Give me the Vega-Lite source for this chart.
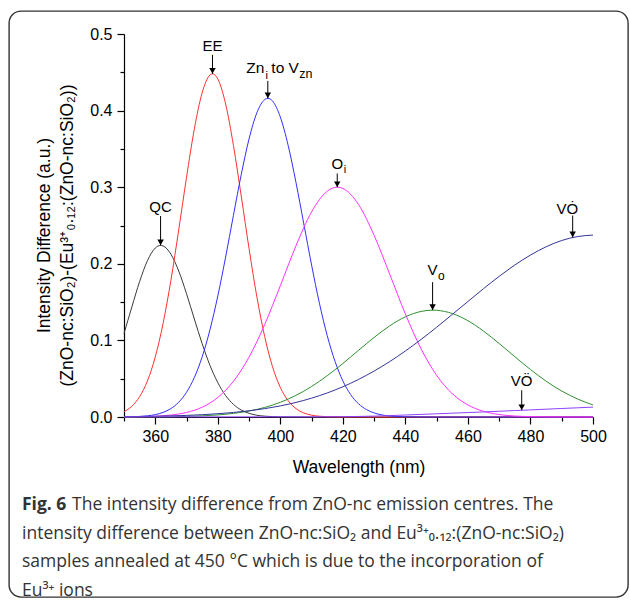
{
  "$schema": "https://vega.github.io/schema/vega-lite/v6.json",
  "width": 619,
  "height": 586,
  "autosize": {"type": "none"},
  "padding": {"left": 9, "top": 11, "right": 2, "bottom": 4},
  "background": "white",
  "config": {
    "view": {"stroke": "#333333", "strokeWidth": 1.4, "cornerRadius": 12, "fill": "white"}
  },
  "title": {
    "text": "Fig. 6",
    "subtitle": [
      "\u200b\u00a0\u00a0\u00a0\u00a0\u00a0\u00a0\u00a0\u00a0\u00a0\u00a0\u00a0The intensity difference from ZnO-nc emission centres. The",
      "intensity difference between ZnO-nc:SiO\u2082 and Eu\u00b3\u207a\u2080.\u2081\u2082:(ZnO-nc:SiO\u2082)",
      "samples annealed at 450 \u00b0C which is due to the incorporation of",
      "Eu\u00b3\u207a ions"
    ],
    "orient": "bottom",
    "anchor": "start",
    "frame": "group",
    "offset": -101,
    "dx": 13,
    "font": "Open Sans",
    "fontSize": 17.5,
    "fontWeight": "bold",
    "color": "#333333",
    "subtitleFont": "Open Sans",
    "subtitleFontSize": 17.5,
    "subtitleFontWeight": "normal",
    "subtitleColor": "#333333",
    "subtitleLineHeight": 28.7,
    "subtitlePadding": -17.5
  },
  "datasets": {
    "curves": [
      {"s":"QC","w":350,"v":0.109},{"s":"QC","w":352.5,"v":0.1435},{"s":"QC","w":355,"v":0.1769},{"s":"QC","w":357.5,"v":0.2041},{"s":"QC","w":360,"v":0.2206},{"s":"QC","w":361.7,"v":0.224},{"s":"QC","w":362.5,"v":0.2233},{"s":"QC","w":365,"v":0.2126},{"s":"QC","w":367.5,"v":0.1906},{"s":"QC","w":370,"v":0.1609},{"s":"QC","w":372.5,"v":0.1279},{"s":"QC","w":375,"v":0.0957},{"s":"QC","w":377.5,"v":0.0674},{"s":"QC","w":380,"v":0.0448},{"s":"QC","w":382.5,"v":0.028},{"s":"QC","w":385,"v":0.0165},{"s":"QC","w":387.5,"v":0.0091},{"s":"QC","w":390,"v":0.0048},{"s":"QC","w":392.5,"v":0.0023},{"s":"QC","w":395,"v":0.0011},{"s":"QC","w":397.5,"v":0.0005},{"s":"QC","w":400,"v":0.0002},{"s":"QC","w":410,"v":0},{"s":"QC","w":450,"v":0},{"s":"QC","w":500,"v":0},
      {"s":"EE","w":350,"v":0.0069},{"s":"EE","w":352.5,"v":0.014},{"s":"EE","w":355,"v":0.0266},{"s":"EE","w":357.5,"v":0.0471},{"s":"EE","w":360,"v":0.0784},{"s":"EE","w":362.5,"v":0.1222},{"s":"EE","w":365,"v":0.1784},{"s":"EE","w":367.5,"v":0.2442},{"s":"EE","w":370,"v":0.313},{"s":"EE","w":372.5,"v":0.3761},{"s":"EE","w":375,"v":0.4233},{"s":"EE","w":377.5,"v":0.4465},{"s":"EE","w":378.3,"v":0.448},{"s":"EE","w":380,"v":0.4413},{"s":"EE","w":382.5,"v":0.4087},{"s":"EE","w":385,"v":0.3546},{"s":"EE","w":387.5,"v":0.2884},{"s":"EE","w":390,"v":0.2197},{"s":"EE","w":392.5,"v":0.1568},{"s":"EE","w":395,"v":0.1049},{"s":"EE","w":397.5,"v":0.0657},{"s":"EE","w":400,"v":0.0386},{"s":"EE","w":402.5,"v":0.0213},{"s":"EE","w":405,"v":0.011},{"s":"EE","w":407.5,"v":0.0053},{"s":"EE","w":410,"v":0.0024},{"s":"EE","w":412.5,"v":0.001},{"s":"EE","w":415,"v":0.0004},{"s":"EE","w":420,"v":0.0001},{"s":"EE","w":430,"v":0},{"s":"EE","w":500,"v":0},
      {"s":"Zn","w":350,"v":0.0001},{"s":"Zn","w":352.5,"v":0.0003},{"s":"Zn","w":355,"v":0.0007},{"s":"Zn","w":357.5,"v":0.0015},{"s":"Zn","w":360,"v":0.0031},{"s":"Zn","w":362.5,"v":0.006},{"s":"Zn","w":365,"v":0.011},{"s":"Zn","w":367.5,"v":0.0193},{"s":"Zn","w":370,"v":0.0323},{"s":"Zn","w":372.5,"v":0.0516},{"s":"Zn","w":375,"v":0.0785},{"s":"Zn","w":377.5,"v":0.114},{"s":"Zn","w":380,"v":0.158},{"s":"Zn","w":382.5,"v":0.2088},{"s":"Zn","w":385,"v":0.2633},{"s":"Zn","w":387.5,"v":0.3166},{"s":"Zn","w":390,"v":0.3631},{"s":"Zn","w":392.5,"v":0.3972},{"s":"Zn","w":395,"v":0.4144},{"s":"Zn","w":396,"v":0.416},{"s":"Zn","w":397.5,"v":0.4125},{"s":"Zn","w":400,"v":0.3916},{"s":"Zn","w":402.5,"v":0.3546},{"s":"Zn","w":405,"v":0.3063},{"s":"Zn","w":407.5,"v":0.2523},{"s":"Zn","w":410,"v":0.1983},{"s":"Zn","w":412.5,"v":0.1486},{"s":"Zn","w":415,"v":0.1062},{"s":"Zn","w":417.5,"v":0.0725},{"s":"Zn","w":420,"v":0.0471},{"s":"Zn","w":422.5,"v":0.0292},{"s":"Zn","w":425,"v":0.0173},{"s":"Zn","w":427.5,"v":0.0098},{"s":"Zn","w":430,"v":0.0053},{"s":"Zn","w":432.5,"v":0.0027},{"s":"Zn","w":435,"v":0.0013},{"s":"Zn","w":440,"v":0.0003},{"s":"Zn","w":445,"v":0.0001},{"s":"Zn","w":450,"v":0},{"s":"Zn","w":500,"v":0},
      {"s":"Oi","w":350,"v":0.0001},{"s":"Oi","w":355,"v":0.0004},{"s":"Oi","w":360,"v":0.001},{"s":"Oi","w":365,"v":0.0025},{"s":"Oi","w":370,"v":0.0059},{"s":"Oi","w":375,"v":0.0128},{"s":"Oi","w":380,"v":0.0255},{"s":"Oi","w":385,"v":0.0466},{"s":"Oi","w":390,"v":0.0782},{"s":"Oi","w":395,"v":0.1208},{"s":"Oi","w":400,"v":0.1714},{"s":"Oi","w":405,"v":0.2235},{"s":"Oi","w":410,"v":0.2678},{"s":"Oi","w":415,"v":0.2948},{"s":"Oi","w":418.2,"v":0.3},{"s":"Oi","w":420,"v":0.2984},{"s":"Oi","w":425,"v":0.2775},{"s":"Oi","w":430,"v":0.2371},{"s":"Oi","w":435,"v":0.1862},{"s":"Oi","w":440,"v":0.1344},{"s":"Oi","w":445,"v":0.0891},{"s":"Oi","w":450,"v":0.0543},{"s":"Oi","w":455,"v":0.0304},{"s":"Oi","w":460,"v":0.0157},{"s":"Oi","w":465,"v":0.0074},{"s":"Oi","w":470,"v":0.0032},{"s":"Oi","w":475,"v":0.0013},{"s":"Oi","w":480,"v":0.0005},{"s":"Oi","w":485,"v":0.0002},{"s":"Oi","w":490,"v":0.0001},{"s":"Oi","w":495,"v":0},{"s":"Oi","w":500,"v":0},
      {"s":"Vo","w":350,"v":0},{"s":"Vo","w":355,"v":0.0001},{"s":"Vo","w":360,"v":0.0002},{"s":"Vo","w":365,"v":0.0004},{"s":"Vo","w":370,"v":0.0008},{"s":"Vo","w":375,"v":0.0015},{"s":"Vo","w":380,"v":0.0027},{"s":"Vo","w":385,"v":0.0047},{"s":"Vo","w":390,"v":0.0078},{"s":"Vo","w":395,"v":0.0125},{"s":"Vo","w":400,"v":0.0192},{"s":"Vo","w":405,"v":0.0282},{"s":"Vo","w":410,"v":0.0398},{"s":"Vo","w":415,"v":0.0539},{"s":"Vo","w":420,"v":0.0699},{"s":"Vo","w":425,"v":0.087},{"s":"Vo","w":430,"v":0.1039},{"s":"Vo","w":435,"v":0.119},{"s":"Vo","w":440,"v":0.1308},{"s":"Vo","w":445,"v":0.1378},{"s":"Vo","w":448.8,"v":0.1395},{"s":"Vo","w":450,"v":0.1393},{"s":"Vo","w":455,"v":0.1351},{"s":"Vo","w":460,"v":0.1257},{"s":"Vo","w":465,"v":0.1121},{"s":"Vo","w":470,"v":0.0959},{"s":"Vo","w":475,"v":0.0787},{"s":"Vo","w":480,"v":0.062},{"s":"Vo","w":485,"v":0.0468},{"s":"Vo","w":490,"v":0.0339},{"s":"Vo","w":495,"v":0.0236},{"s":"Vo","w":500,"v":0.0157},
      {"s":"VOdot","w":350,"v":0.0004},{"s":"VOdot","w":355,"v":0.0007},{"s":"VOdot","w":360,"v":0.001},{"s":"VOdot","w":365,"v":0.0015},{"s":"VOdot","w":370,"v":0.0021},{"s":"VOdot","w":375,"v":0.003},{"s":"VOdot","w":380,"v":0.0043},{"s":"VOdot","w":385,"v":0.0059},{"s":"VOdot","w":390,"v":0.0081},{"s":"VOdot","w":395,"v":0.0109},{"s":"VOdot","w":400,"v":0.0145},{"s":"VOdot","w":405,"v":0.019},{"s":"VOdot","w":410,"v":0.0246},{"s":"VOdot","w":415,"v":0.0314},{"s":"VOdot","w":420,"v":0.0395},{"s":"VOdot","w":425,"v":0.049},{"s":"VOdot","w":430,"v":0.06},{"s":"VOdot","w":435,"v":0.0724},{"s":"VOdot","w":440,"v":0.0862},{"s":"VOdot","w":445,"v":0.1012},{"s":"VOdot","w":450,"v":0.1172},{"s":"VOdot","w":455,"v":0.1339},{"s":"VOdot","w":460,"v":0.1508},{"s":"VOdot","w":465,"v":0.1676},{"s":"VOdot","w":470,"v":0.1836},{"s":"VOdot","w":475,"v":0.1984},{"s":"VOdot","w":480,"v":0.2114},{"s":"VOdot","w":485,"v":0.2222},{"s":"VOdot","w":490,"v":0.2304},{"s":"VOdot","w":495,"v":0.2355},{"s":"VOdot","w":500,"v":0.2375},
      {"s":"VOdd","w":350,"v":0.0002},{"s":"VOdd","w":370,"v":0.0002},{"s":"VOdd","w":390,"v":0.0002},{"s":"VOdd","w":410,"v":0.0002},{"s":"VOdd","w":415,"v":0.0003},{"s":"VOdd","w":420,"v":0.0004},{"s":"VOdd","w":425,"v":0.0007},{"s":"VOdd","w":430,"v":0.0012},{"s":"VOdd","w":435,"v":0.0018},{"s":"VOdd","w":440,"v":0.0026},{"s":"VOdd","w":445,"v":0.0034},{"s":"VOdd","w":450,"v":0.0042},{"s":"VOdd","w":455,"v":0.005},{"s":"VOdd","w":460,"v":0.0058},{"s":"VOdd","w":465,"v":0.0066},{"s":"VOdd","w":470,"v":0.0075},{"s":"VOdd","w":475,"v":0.0084},{"s":"VOdd","w":480,"v":0.0093},{"s":"VOdd","w":485,"v":0.0102},{"s":"VOdd","w":490,"v":0.0111},{"s":"VOdd","w":495,"v":0.012},{"s":"VOdd","w":500,"v":0.0129}
    ],
    "notes": [
      {"id":"QC","w":361.7,"v":0.224,"lv":0.2624,"main":"QC"},
      {"id":"EE","w":378.3,"v":0.448,"lv":0.4728,"main":"EE"},
      {"id":"Zn","w":396,"v":0.416,"lv":0.4388,"main":"Zn","sub":"i","main2":"to V","sub2":"zn"},
      {"id":"Oi","w":418.2,"v":0.3,"lv":0.3179,"main":"O","sub":"i"},
      {"id":"Vo","w":448.7,"v":0.1395,"lv":0.176,"main":"V","sub":"o"},
      {"id":"VOdot","w":493.5,"v":0.2345,"lv":0.263,"main":"V\u022e"},
      {"id":"VOdd","w":477.2,"v":0.0089,"lv":0.0349,"main":"V\u00d6"}
    ]
  },
  "layer": [
    {
      "data": {"name": "curves"},
      "mark": {"type": "line", "strokeWidth": 1, "interpolate": "monotone"},
      "encoding": {
        "x": {
          "field": "w", "type": "quantitative", "title": "Wavelength (nm)",
          "scale": {"domain": [350, 500], "range": [115, 584], "nice": false, "zero": false},
          "axis": {
            "values": [350,360,370,380,390,400,410,420,430,440,450,460,470,480,490,500],
            "labelExpr": "datum.value % 20 === 0 ? datum.label : ''",
            "tickSize": {"condition": {"test": "datum.value % 20 !== 0", "value": 4}, "value": 7},
            "offset": -180,
            "grid": false,
            "domainColor": "#000000", "domainWidth": 1.2,
            "tickColor": "#000000", "tickWidth": 1.2,
            "labelFont": "Liberation Sans", "labelFontSize": 16, "labelColor": "#000000", "labelPadding": 4,
            "labelFlush": false, "labelOverlap": false,
            "titleFont": "Liberation Sans", "titleFontSize": 17.5, "titleFontWeight": "normal", "titleColor": "#000000",
            "titleBaseline": "middle", "titleY": 50
          }
        },
        "y": {
          "field": "v", "type": "quantitative",
          "title": ["Intensity Difference (a.u.)", "(ZnO-nc:SiO\u2082)-(Eu\u00b3\u207a\u2080.\u2081\u2082:(ZnO-nc:SiO\u2082))"],
          "scale": {"domain": [0, 0.5], "range": [406, 23], "nice": false, "zero": false},
          "axis": {
            "values": [0,0.05,0.1,0.15,0.2,0.25,0.3,0.35,0.4,0.45,0.5],
            "labelExpr": "round(datum.value*100) % 10 === 0 ? format(datum.value, '.1f') : ''",
            "tickSize": {"condition": {"test": "round(datum.value*100) % 10 !== 0", "value": 4}, "value": 7},
            "offset": -115,
            "grid": false,
            "domainColor": "#000000", "domainWidth": 1.2,
            "tickColor": "#000000", "tickWidth": 1.2,
            "labelFont": "Liberation Sans", "labelFontSize": 16, "labelColor": "#000000", "labelPadding": 5,
            "labelFlush": false, "labelOverlap": false,
            "titleFont": "Liberation Sans", "titleFontSize": 17.5, "titleFontWeight": "normal", "titleColor": "#000000",
            "titleBaseline": "middle", "titleX": -80, "titleY": 224, "titleLineHeight": 23.5
          }
        },
        "color": {
          "field": "s", "type": "nominal", "legend": null,
          "scale": {
            "domain": ["QC","EE","Zn","Oi","Vo","VOdot","VOdd"],
            "range": ["#3a3a3a","#ff3030","#3030ff","#ff30ff","#2f8f2f","#34349a","#9040ff"]
          }
        }
      }
    },
    {
      "data": {"name": "notes"},
      "mark": {"type": "rule", "color": "#000000", "strokeWidth": 1},
      "encoding": {
        "x": {"field": "w", "type": "quantitative"},
        "y": {"field": "v", "type": "quantitative"},
        "y2": {"field": "lv"}
      }
    },
    {
      "data": {"name": "notes"},
      "mark": {"type": "point", "shape": "triangle-down", "filled": true, "color": "#000000", "size": 42, "opacity": 1, "yOffset": -3},
      "encoding": {
        "x": {"field": "w", "type": "quantitative"},
        "y": {"field": "v", "type": "quantitative"}
      }
    },
    {
      "data": {"name": "notes"},
      "transform": [{"filter": "indexof(['QC','EE','Oi','VOdd'], datum.id) >= 0"}],
      "mark": {"type": "text", "align": "center", "baseline": "alphabetic", "dy": -4, "font": "Liberation Sans", "fontSize": 15, "color": "#000000"},
      "encoding": {
        "x": {"field": "w", "type": "quantitative"},
        "y": {"field": "lv", "type": "quantitative"},
        "text": {"field": "main"}
      }
    },
    {
      "data": {"name": "notes"},
      "transform": [{"filter": "datum.id === 'Vo'"}],
      "mark": {"type": "text", "align": "center", "baseline": "alphabetic", "dy": -7, "font": "Liberation Sans", "fontSize": 15, "color": "#000000"},
      "encoding": {
        "x": {"field": "w", "type": "quantitative"},
        "y": {"field": "lv", "type": "quantitative"},
        "text": {"field": "main"}
      }
    },
    {
      "data": {"name": "notes"},
      "transform": [{"filter": "datum.id === 'VOdot'"}],
      "mark": {"type": "text", "align": "right", "baseline": "alphabetic", "dx": 5.5, "dy": -2, "font": "Liberation Sans", "fontSize": 15, "color": "#000000"},
      "encoding": {
        "x": {"field": "w", "type": "quantitative"},
        "y": {"field": "lv", "type": "quantitative"},
        "text": {"field": "main"}
      }
    },
    {
      "data": {"name": "notes"},
      "transform": [{"filter": "datum.id === 'Oi'"}],
      "mark": {"type": "text", "align": "left", "baseline": "alphabetic", "dx": 6.5, "dy": 0, "font": "Liberation Sans", "fontSize": 11, "color": "#000000"},
      "encoding": {
        "x": {"field": "w", "type": "quantitative"},
        "y": {"field": "lv", "type": "quantitative"},
        "text": {"field": "sub"}
      }
    },
    {
      "data": {"name": "notes"},
      "transform": [{"filter": "datum.id === 'Vo'"}],
      "mark": {"type": "text", "align": "left", "baseline": "alphabetic", "dx": 5.5, "dy": -2, "font": "Liberation Sans", "fontSize": 12, "color": "#000000"},
      "encoding": {
        "x": {"field": "w", "type": "quantitative"},
        "y": {"field": "lv", "type": "quantitative"},
        "text": {"field": "sub"}
      }
    },
    {
      "data": {"name": "notes"},
      "transform": [{"filter": "datum.id === 'Zn'"}],
      "mark": {"type": "text", "align": "right", "baseline": "alphabetic", "dx": -3.5, "dy": -7.7, "font": "Liberation Sans", "fontSize": 15.5, "color": "#000000"},
      "encoding": {
        "x": {"field": "w", "type": "quantitative"},
        "y": {"field": "lv", "type": "quantitative"},
        "text": {"field": "main"}
      }
    },
    {
      "data": {"name": "notes"},
      "transform": [{"filter": "datum.id === 'Zn'"}],
      "mark": {"type": "text", "align": "center", "baseline": "alphabetic", "dx": -1.2, "dy": -1.5, "font": "Liberation Sans", "fontSize": 11, "color": "#000000"},
      "encoding": {
        "x": {"field": "w", "type": "quantitative"},
        "y": {"field": "lv", "type": "quantitative"},
        "text": {"field": "sub"}
      }
    },
    {
      "data": {"name": "notes"},
      "transform": [{"filter": "datum.id === 'Zn'"}],
      "mark": {"type": "text", "align": "left", "baseline": "alphabetic", "dx": 3.5, "dy": -7.7, "font": "Liberation Sans", "fontSize": 15.5, "color": "#000000"},
      "encoding": {
        "x": {"field": "w", "type": "quantitative"},
        "y": {"field": "lv", "type": "quantitative"},
        "text": {"field": "main2"}
      }
    },
    {
      "data": {"name": "notes"},
      "transform": [{"filter": "datum.id === 'Zn'"}],
      "mark": {"type": "text", "align": "left", "baseline": "alphabetic", "dx": 31.5, "dy": -3, "font": "Liberation Sans", "fontSize": 12.5, "color": "#000000"},
      "encoding": {
        "x": {"field": "w", "type": "quantitative"},
        "y": {"field": "lv", "type": "quantitative"},
        "text": {"field": "sub2"}
      }
    }
  ]
}
